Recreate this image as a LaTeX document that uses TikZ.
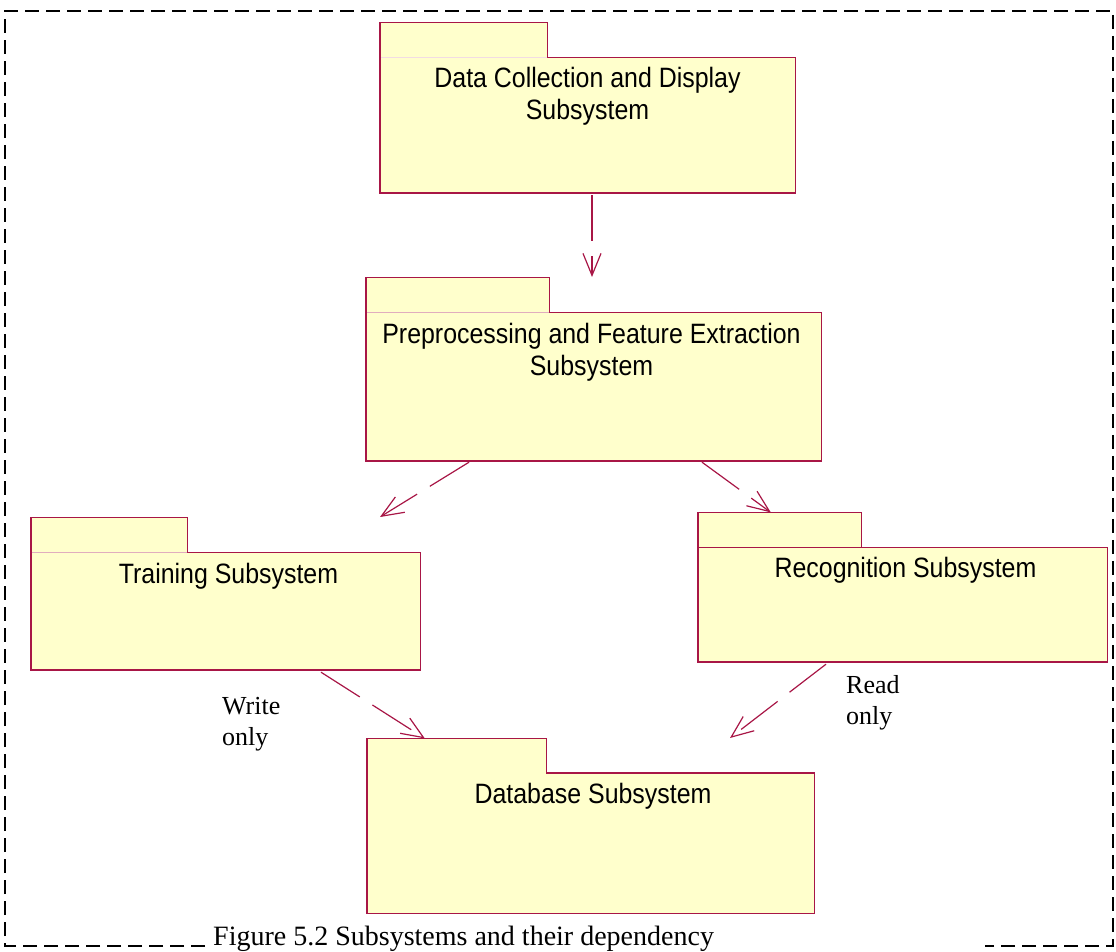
\documentclass[tikz,border=0pt]{standalone}
\usepackage{fontspec}
\setmainfont{Liberation Serif}
\newfontfamily\pkgfont[FakeStretch=0.89]{Liberation Sans}
\usetikzlibrary{arrows.meta,calc}
\definecolor{pkgline}{RGB}{168,22,70}
\definecolor{pkgfill}{RGB}{255,255,204}

\begin{document}
\begin{tikzpicture}[x=1pt,y=1pt,
  pkgarea/.style 2 args={fill=pkgfill,draw=none,inner sep=0pt,minimum width=#1,minimum height=#2},
  pkgedge/.style={draw=pkgline,line width=1.4pt,line join=miter},
  tabrule/.style={draw=pkgline!35,line width=1.2pt},
  pkgtext/.style={font=\pkgfont\fontsize{28}{32}\selectfont,align=center,inner sep=0pt,anchor=north},
  note/.style={font=\fontsize{26}{31}\selectfont,align=left,inner sep=0pt,anchor=north west},
  dep/.style={draw=pkgline,line width=1.2pt,dash pattern=on 46pt off 15pt,
    -{Straight Barb[length=22pt,width=18pt,line width=1.2pt]}},
  border/.style={draw=black,line width=2pt,dash pattern=on 14pt off 7pt}]
\useasboundingbox (0,0) rectangle (1116,951);

% outer dashed frame, open where the caption sits
\draw[border] (205,5) -- (5,5) -- (5,940) -- (1113,940) -- (1113,5) -- (985,5);

% Data Collection and Display
\node[pkgarea={415pt}{135pt}] (dc) at (587.5,825.5) {};
\node[pkgarea={167pt}{35pt},anchor=south west] (dctab) at (dc.north west) {};
\draw[tabrule,draw=pkgline!15] (dctab.south west) -- (dctab.south east);
\draw[pkgedge] (dctab.south west) |- (dctab.north east) |- (dc.north east) |- (dc.south west) -- cycle;
\node[pkgtext] (dctext) at ($(dc.north)+(0,-9.5)$) {Data Collection and Display\\Subsystem};

% Preprocessing and Feature Extraction
\node[pkgarea={455pt}{148pt}] (pp) at (593.5,564) {};
\node[pkgarea={183pt}{35pt},anchor=south west] (pptab) at (pp.north west) {};
\draw[tabrule] (pptab.south west) -- (pptab.south east);
\draw[pkgedge] (pptab.south west) |- (pptab.north east) |- (pp.north east) |- (pp.south west) -- cycle;
\node[pkgtext] (pptext) at ($(pp.north)+(-2,-10)$) {Preprocessing and Feature Extraction\\Subsystem};

% Training
\node[pkgarea={389pt}{117pt}] (tr) at (225.5,339.5) {};
\node[pkgarea={156pt}{35pt},anchor=south west] (trtab) at (tr.north west) {};
\draw[tabrule] (trtab.south west) -- (trtab.south east);
\draw[pkgedge] (trtab.south west) |- (trtab.north east) |- (tr.north east) |- (tr.south west) -- cycle;
\node[pkgtext] (trtext) at ($(tr.north)+(3,-10)$) {Training Subsystem};

% Recognition
\node[pkgarea={409pt}{114pt}] (rc) at (902.5,346) {};
\node[pkgarea={163pt}{35pt},anchor=south west] (rctab) at (rc.north west) {};
\draw[pkgedge] (rctab.south west) -- (rctab.south east);
\draw[pkgedge] (rctab.south west) |- (rctab.north east) |- (rc.north east) |- (rc.south west) -- cycle;
\node[pkgtext] (rctext) at ($(rc.north)+(3,-9)$) {Recognition Subsystem};

% Database
\node[pkgarea={447pt}{140pt}] (db) at (590.5,108) {};
\node[pkgarea={179pt}{34pt},anchor=south west] (dbtab) at (db.north west) {};
\draw[pkgedge] (dbtab.south west) |- (dbtab.north east) |- (db.north east) |- (db.south west) -- cycle;
\node[pkgtext] (dbtext) at ($(db.north)+(2.5,-10)$) {Database Subsystem};

% free ends of dependencies
\coordinate (ppin) at (592,674);
\coordinate (trin) at (380,434);
\coordinate (dbin) at (730,213);

% dependencies
\draw[dep] ($(dc.south)+(4.5,-2)$) -- (ppin);
\draw[dep] ($(pp.south)+(-124.5,-1)$) -- (trin);
\draw[dep] ($(pp.south)+(108.5,-1)$) -- ($(rctab.north west)+(73,0)$);
\draw[dep] ($(tr.south)+(95.5,-2)$) -- ($(dbtab.north west)+(58,0)$);
\draw[dep] ($(rc.south)+(-76.5,-2)$) -- (dbin);

% access notes
\node[note] (write) at (222,254) {Write\\only};
\node[note] (read) at (846,276) {Read\\only};

% caption
\node[inner sep=0pt,anchor=north west,font=\fontsize{28}{32}\selectfont] (caption) at (213,25) {Figure 5.2 Subsystems and their dependency};
\end{tikzpicture}
\end{document}
